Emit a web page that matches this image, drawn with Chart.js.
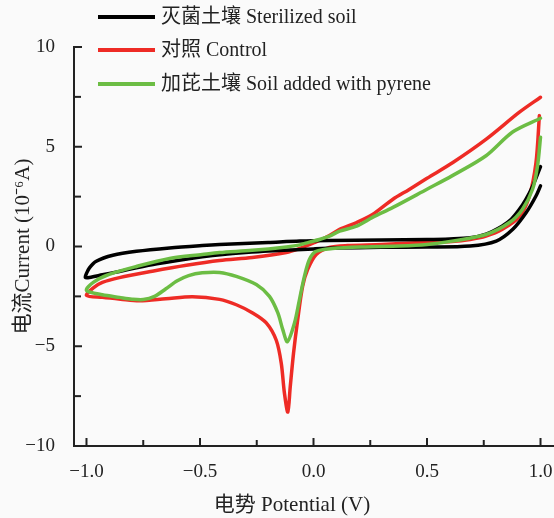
<!DOCTYPE html>
<html>
<head>
<meta charset="utf-8">
<script src="https://cdn.jsdelivr.net/npm/chart.js@4/dist/chart.umd.min.js"></script>
<style>
  html, body { margin: 0; padding: 0; background: #fafafa; }
  #wrap { position: relative; width: 554px; height: 518px; }
</style>
</head>
<body>
<div id="wrap"><canvas id="c" width="554" height="518"></canvas></div>
<script>
// ---- Data ----
const seriesLabels = ['灭菌土壤 Sterilized soil', '对照 Control', '加芘土壤 Soil added with pyrene'];
const seriesColors = ['#000000', '#ee2b25', '#6cbd44'];

// Sterilized soil: upper branch from +1.0 V leftwards, then lower branch back to +1.0 V
const sterilX = [1.0, 0.966, 0.935, 0.907, 0.87, 0.83, 0.76, 0.69, 0.6, 0.5, 0.3, 0.07, -0.06, -0.2, -0.414, -0.49, -0.634, -0.78, -0.884, -0.957, -0.987, -1.0, -1.005,
                 -0.987, -0.93, -0.855, -0.78, -0.69, -0.6, -0.49, -0.4, -0.3, -0.2, -0.1, 0.0, 0.1, 0.3, 0.5, 0.69, 0.805, 0.878, 0.937, 0.98, 1.0];
const sterilY = [4.01, 3.04, 2.35, 1.86, 1.35, 1.02, 0.62, 0.44, 0.38, 0.35, 0.32, 0.3, 0.27, 0.2, 0.1, 0.05, -0.07, -0.24, -0.44, -0.74, -1.07, -1.35, -1.55,
                 -1.55, -1.42, -1.25, -1.07, -0.87, -0.7, -0.52, -0.4, -0.3, -0.22, -0.17, -0.12, -0.08, -0.04, -0.03, 0.02, 0.27, 0.86, 1.7, 2.53, 3.04];

// Control
const controlX = [1.0, 0.907, 0.761, 0.614, 0.5, 0.42, 0.35, 0.26, 0.19, 0.115, 0.07, 0.026, 0.0, -0.062, -0.12, -0.27, -0.414, -0.56, -0.71, -0.855, -0.93, -0.97, -1.0,
                  -0.93, -0.85, -0.767, -0.65, -0.533, -0.414, -0.34, -0.268, -0.208, -0.164, -0.142, -0.128, -0.113, -0.1025, -0.088, -0.07, -0.048, -0.026, 0.012, 0.07, 0.15, 0.3, 0.47, 0.61, 0.69, 0.76, 0.83, 0.907, 0.95, 0.98, 0.995];
const controlY = [7.48, 6.73, 5.38, 4.21, 3.42, 2.85, 2.37, 1.6, 1.2, 0.86, 0.55, 0.3, 0.18, -0.1, -0.3, -0.55, -0.7, -0.94, -1.24, -1.56, -1.8, -2.07, -2.45,
                  -2.55, -2.64, -2.72, -2.62, -2.52, -2.65, -2.92, -3.33, -3.83, -4.7, -5.85, -7.36, -8.3, -7.04, -5.35, -3.7, -2.0, -1.16, -0.4, -0.05, 0.05, 0.1, 0.2, 0.25, 0.35, 0.52, 0.85, 1.5, 2.5, 4.2, 6.56];

// Soil added with pyrene
const pyreneX = [1.0, 0.877, 0.76, 0.61, 0.5, 0.35, 0.26, 0.19, 0.115, 0.07, 0.026, -0.018, -0.06, -0.12, -0.27, -0.414, -0.49, -0.634, -0.78, -0.9, -0.97, -1.0,
                 -0.93, -0.855, -0.8, -0.75, -0.7, -0.65, -0.6, -0.55, -0.49, -0.414, -0.34, -0.252, -0.194, -0.157, -0.135, -0.115, -0.084, -0.062, -0.04, -0.018, 0.012, 0.084, 0.23, 0.38, 0.5, 0.61, 0.76, 0.863, 0.92, 0.965, 0.987, 1.0];
const pyreneY = [6.43, 5.74, 4.55, 3.54, 2.87, 1.96, 1.46, 1.02, 0.77, 0.52, 0.35, 0.22, 0.08, -0.02, -0.19, -0.3, -0.4, -0.6, -1.0, -1.4, -1.8, -2.2,
                 -2.42, -2.55, -2.64, -2.66, -2.5, -2.12, -1.72, -1.46, -1.32, -1.3, -1.5, -1.91, -2.5, -3.33, -4.18, -4.77, -3.85, -2.67, -1.5, -0.65, -0.24, -0.1, -0.02, 0.02, 0.1, 0.27, 0.6, 1.2, 1.86, 2.87, 4.05, 5.48];

// Axis ticks
const xTickValues = [-1.0, -0.5, 0.0, 0.5, 1.0];
const xMinorTicks = [-0.75, -0.25, 0.25, 0.75];
const yTickValues = [-10, -5, 0, 5, 10];
const yMinorTicks = [-7.5, -2.5, 2.5, 7.5];
const xTitle = '电势 Potential (V)';
const yTitle = '电流Current (10⁻⁶A)';

// ---- Chart ----
const FONT = "'Liberation Serif', 'Noto Sans CJK SC', serif";
const zip = (xs, ys) => xs.map((x, i) => ({ x: x, y: ys[i] }));
const seriesData = [zip(sterilX, sterilY), zip(controlX, controlY), zip(pyreneX, pyreneY)];
const drawOrder = [2, 3, 1];

const datasets = seriesData.map((d, i) => ({
  label: seriesLabels[i],
  data: d,
  showLine: true,
  borderColor: seriesColors[i],
  backgroundColor: seriesColors[i],
  borderWidth: 3.5,
  pointRadius: 0,
  tension: 0.3,
  borderCapStyle: 'round',
  borderJoinStyle: 'round',
  fill: false,
  order: drawOrder[i]
}));

const fmt = v => {
  const s = (Math.abs(v) < 1e-9 ? 0 : v);
  return s < 0 ? '\u2212' + String(Math.abs(s)) : String(s);
};

const tickAndLegendPlugin = {
  id: 'tickAndLegend',
  afterDraw(chart) {
    const ctx = chart.ctx;
    const xs = chart.scales.x, ys = chart.scales.y;
    const area = chart.chartArea;
    ctx.save();
    ctx.strokeStyle = '#222';
    ctx.lineWidth = 2;
    yTickValues.concat(yMinorTicks).forEach(v => {
      const py = ys.getPixelForValue(v);
      const len = yTickValues.includes(v) ? 8 : 7;
      ctx.beginPath(); ctx.moveTo(area.left, py); ctx.lineTo(area.left + len, py); ctx.stroke();
    });
    xTickValues.concat(xMinorTicks).forEach(v => {
      const px = xs.getPixelForValue(v);
      const len = xTickValues.includes(v) ? 8 : 6;
      ctx.beginPath(); ctx.moveTo(px, area.bottom); ctx.lineTo(px, area.bottom - len); ctx.stroke();
    });
    // x-axis title (slightly left of the axis centre, as in the reference)
    ctx.fillStyle = '#222';
    ctx.font = "21px " + FONT;
    ctx.textAlign = 'center';
    ctx.textBaseline = 'middle';
    ctx.fillText(xTitle, 292, 505);
    // legend
    const rows = [17, 50, 84];
    chart.data.datasets.forEach((ds, i) => {
      const y = rows[i];
      ctx.strokeStyle = ds.borderColor;
      ctx.lineWidth = 4;
      ctx.lineCap = 'butt';
      ctx.beginPath(); ctx.moveTo(98, y); ctx.lineTo(155, y); ctx.stroke();
      ctx.fillStyle = '#222';
      ctx.font = "20px " + FONT;
      ctx.textBaseline = 'middle';
      ctx.textAlign = 'left';
      ctx.fillText(ds.label, 161, y + 1);
    });
    ctx.restore();
  }
};

new Chart(document.getElementById('c'), {
  type: 'scatter',
  data: { datasets: datasets },
  plugins: [tickAndLegendPlugin],
  options: {
    responsive: false,
    animation: false,
    devicePixelRatio: 1,
    layout: { padding: { top: 47, right: 1, left: 0, bottom: 0 } },
    plugins: { legend: { display: false }, tooltip: { enabled: false } },
    scales: {
      x: {
        type: 'linear',
        min: -1.055, max: 1.055,
        afterBuildTicks: s => { s.ticks = xTickValues.map(v => ({ value: v })); },
        afterFit: s => { s.height = 72; s.paddingLeft = 0; s.paddingRight = 0; },
        grid: { display: false, drawTicks: false },
        border: { display: true, color: '#222', width: 2 },
        ticks: { padding: 15, color: '#222', font: { family: FONT, size: 19 },
                 callback: v => (v < 0 ? '\u2212' : '') + Math.abs(v).toFixed(1) },
        title: { display: false, text: xTitle }
      },
      y: {
        type: 'linear',
        min: -10, max: 10,
        afterBuildTicks: s => { s.ticks = yTickValues.map(v => ({ value: v })); },
        afterFit: s => { s.width = 74; s.paddingTop = 0; s.paddingBottom = 0; },
        grid: { display: false, drawTicks: false },
        border: { display: true, color: '#222', width: 2 },
        ticks: { padding: 19, color: '#222', font: { family: FONT, size: 19 }, callback: v => fmt(v) },
        title: { display: true, text: yTitle, color: '#222', font: { family: FONT, size: 21 }, padding: { top: 11, bottom: 11 } }
      }
    }
  }
});
</script>
</body>
</html>
